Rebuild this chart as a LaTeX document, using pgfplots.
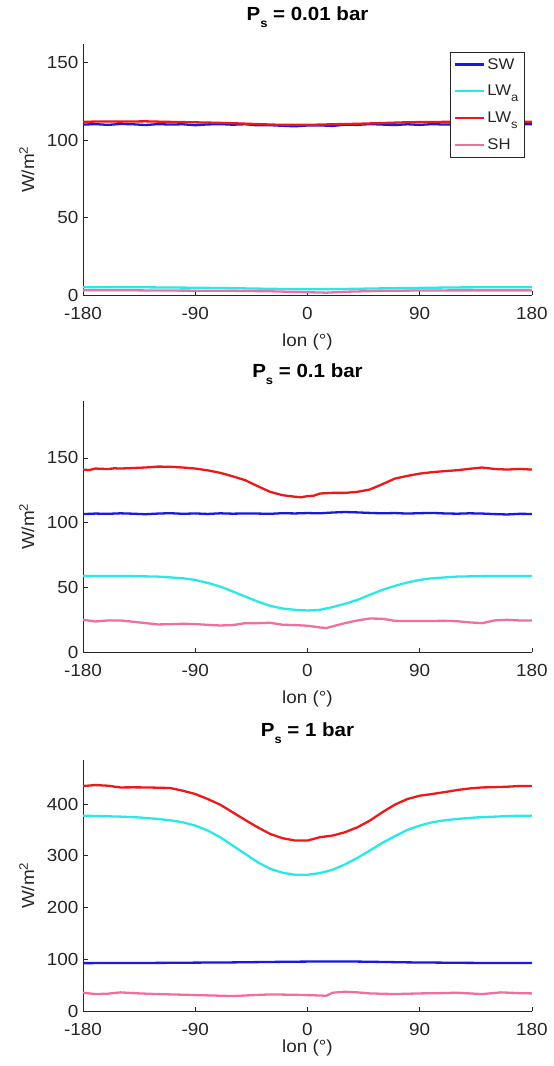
\documentclass[border=0pt]{standalone}
\usepackage{fontspec}
\setmainfont{Liberation Sans}[FakeStretch=1.08]
\usepackage{pgfplots}
\pgfplotsset{compat=1.18}

\definecolor{swblue}{RGB}{25,25,225}
\definecolor{lwacyan}{RGB}{40,232,232}
\definecolor{lwsred}{RGB}{235,25,25}
\definecolor{shpink}{RGB}{240,110,160}
\definecolor{axgray}{RGB}{38,38,38}

\newcommand{\sub}[1]{\raisebox{-0.38em}{\fontsize{12}{12}\selectfont #1}}

\pgfplotsset{
  panel/.style={
    scale only axis, width=449pt, height=251pt,
    xmin=-180, xmax=180, ymin=0,
    axis x line*=bottom, axis y line*=left,
    axis line style={axgray, line width=0.8pt, -},
    tick align=inside, major tick length=4.5pt,
    tick style={axgray, line width=0.8pt},
    xtick={-180,-90,0,90,180},
    xticklabels={-180,-90,0,90,180},
    tick label style={font=\fontsize{17.5}{17.5}\selectfont, text=axgray},
    xticklabel style={yshift=-8.5pt},
    yticklabel style={xshift=-1pt},
    xlabel={lon (°)},
    ylabel={W/m\textsuperscript{2}},
    label style={font=\fontsize{17.5}{17.5}\selectfont, text=axgray},
    ylabel style={at={(axis description cs:-0.125,0.5)}, anchor=center},
    title style={font=\bfseries\fontsize{19}{19}\selectfont, at={(axis description cs:0.5,1)}, anchor=base, yshift=17.5pt},
    every axis plot/.append style={line width=2.3pt, no markers},
  },
}

\begin{document}
\begin{tikzpicture}
\useasboundingbox (0,0) rectangle (554pt,-1066pt);

% ---- P_s = 0.01 bar
\begin{axis}[panel, at={(83pt,-295pt)}, anchor=south west,
  ymax=162, ytick={0,50,100,150}, yticklabels={0,50,100,150},
  xlabel style={at={(axis description cs:0.5,0)}, anchor=center, yshift=-47pt},
  title={P\sub{s} = 0.01 bar},
  legend style={at={(axis description cs:0.984,0.968)}, anchor=north east,
    draw=axgray, line width=0.8pt, fill=white,
    font=\fontsize{15.5}{15.5}\selectfont, text=axgray,
    cells={anchor=west}, row sep=10.5pt, inner xsep=4pt, inner ysep=4pt},
  legend image code/.code={\draw[#1] (0pt,0pt) -- (29pt,0pt);},
]
\addplot[swblue] coordinates {
(-180,110.0) (-170,110.3) (-160,109.8) (-150,110.4) (-140,110.2) (-130,109.7)
(-120,110.3) (-110,110.0) (-100,110.2) (-90,109.6) (-80,110.1) (-70,110.3)
(-60,109.9) (-50,110.2) (-40,109.5) (-30,109.6) (-20,109.2) (-10,108.9)
(0,109.4) (10,109.5) (20,109.1) (30,109.9) (40,109.8) (50,110.3) (60,110.0)
(70,109.7) (80,110.2) (90,109.8) (100,110.3) (110,110.0) (120,110.2)
(130,110.4) (140,110.0) (150,110.1) (160,110.4) (170,110.2) (180,110.3)};
\addplot[lwacyan] coordinates {
(-180,5.0) (-150,5.1) (-120,4.9) (-90,4.7) (-60,4.4) (-30,4.0) (0,3.7)
(30,3.9) (60,4.3) (90,4.6) (120,4.9) (150,5.0) (180,5.0)};
\addplot[lwsred] coordinates {
(-180,111.8) (-165,112.0) (-150,111.9) (-130,112.1) (-115,111.8) (-100,111.6)
(-80,111.3) (-60,110.9) (-40,110.3) (-20,109.8) (-10,109.9) (0,109.8)
(20,110.2) (40,110.5) (60,111.0) (80,111.5) (100,111.7) (130,111.8)
(150,111.9) (165,112.0) (180,111.8)};
\addplot[shpink] coordinates {
(-180,3.0) (-150,3.1) (-120,2.9) (-90,2.8) (-60,2.7) (-30,2.4) (0,1.8)
(15,1.5) (30,2.1) (60,2.7) (90,2.9) (120,3.0) (150,3.0) (180,3.0)};
\legend{SW, LW\sub{a}, LW\sub{s}, SH}
\end{axis}

% ---- P_s = 0.1 bar
\begin{axis}[panel, at={(83pt,-652pt)}, anchor=south west,
  ymax=194, ytick={0,50,100,150}, yticklabels={0,50,100,150},
  xlabel style={at={(axis description cs:0.5,0)}, anchor=center, yshift=-47pt},
  title={P\sub{s} = 0.1 bar},
]
\addplot[swblue] coordinates {
(-180,106.6) (-170,107.0) (-160,106.8) (-150,107.2) (-140,106.9) (-130,106.5)
(-120,107.0) (-110,107.3) (-100,106.8) (-90,107.1) (-80,106.7) (-70,107.2)
(-60,106.9) (-50,107.1) (-40,107.0) (-30,106.8) (-20,107.3) (-10,107.1)
(0,107.4) (10,107.2) (20,107.8) (30,108.2) (40,107.9) (50,107.5) (60,107.2)
(70,107.4) (80,107.0) (90,107.3) (100,107.5) (110,107.1) (120,106.9)
(130,107.2) (140,107.0) (150,106.6) (160,106.3) (170,106.8) (180,106.7)};
\addplot[lwacyan] coordinates {
(-180,58.8) (-150,58.8) (-120,58.3) (-100,57.0) (-90,55.7) (-80,53.4)
(-70,50.6) (-60,46.8) (-50,42.9) (-40,39.0) (-30,35.7) (-20,33.6)
(-10,32.6) (0,32.1) (10,32.6) (20,34.7) (30,37.2) (40,40.3) (50,44.2)
(60,48.0) (70,51.1) (80,53.7) (90,55.7) (100,57.0) (120,58.3) (150,58.8)
(180,58.8)};
\addplot[lwsred] coordinates {
(-180,141.0) (-175,140.6) (-170,141.8) (-160,141.4) (-155,142.0) (-150,141.8)
(-140,142.2) (-130,142.6) (-120,143.3) (-110,143.2) (-100,142.6) (-90,141.8)
(-80,140.4) (-70,138.5) (-60,135.8) (-50,132.8) (-40,128.2) (-30,123.8)
(-20,121.2) (-10,120.0) (-5,119.6) (0,120.5) (5,120.8) (10,122.5) (20,123.0)
(30,123.0) (40,123.8) (50,125.6) (60,129.7) (70,134.0) (80,136.1) (90,137.9)
(100,139.0) (110,139.8) (120,140.5) (130,141.6) (140,142.6) (150,141.5)
(160,141.0) (170,141.5) (180,141.0)};
\addplot[shpink] coordinates {
(-180,24.9) (-170,23.6) (-160,24.4) (-150,24.4) (-140,23.4) (-130,22.4)
(-120,21.3) (-110,21.5) (-100,21.8) (-90,21.6) (-80,21.0) (-70,20.5)
(-60,20.8) (-50,22.3) (-40,22.3) (-30,22.6) (-20,21.1) (-10,20.8) (0,20.3)
(10,19.0) (15,18.5) (20,19.8) (30,22.3) (40,24.4) (50,25.9) (60,25.7)
(70,24.1) (80,23.9) (90,23.9) (100,24.0) (110,24.1) (120,23.8) (130,22.9)
(140,22.3) (150,24.4) (160,24.9) (170,24.4) (180,24.4)};
\end{axis}

% ---- P_s = 1 bar
\begin{axis}[panel, at={(83pt,-1011pt)}, anchor=south west,
  ymax=485, ytick={0,100,200,300,400}, yticklabels={0,100,200,300,400},
  xlabel style={at={(axis description cs:0.5,0)}, anchor=center, yshift=-37pt},
  title={P\sub{s} = 1 bar},
]
\addplot[swblue] coordinates {
(-180,92.5) (-160,92.7) (-140,92.6) (-120,93.0) (-100,93.2) (-90,93.5)
(-70,93.7) (-50,94.2) (-30,94.8) (-10,95.3) (0,95.5) (20,95.8) (40,95.5)
(60,94.8) (80,94.0) (90,93.8) (110,93.4) (130,93.0) (150,92.8) (165,92.6)
(180,92.6)};
\addplot[lwacyan] coordinates {
(-180,377.5) (-165,376.5) (-150,375.6) (-135,374.0) (-120,371.1) (-110,368.5)
(-100,364.7) (-90,358.3) (-80,348.6) (-70,335.8) (-60,319.7) (-50,303.7)
(-40,287.6) (-30,274.8) (-20,267.1) (-10,263.2) (0,263.2) (10,266.5)
(20,272.9) (30,283.1) (40,296.0) (50,310.1) (60,324.9) (70,337.7)
(80,349.9) (90,358.3) (100,364.7) (110,368.5) (120,371.1) (135,374.0)
(150,375.6) (165,377.0) (180,377.5)};
\addplot[lwsred] coordinates {
(-180,434.7) (-170,436.6) (-160,435.3) (-150,432.0) (-140,432.2) (-130,432.0)
(-120,431.5) (-110,430.8) (-100,425.7) (-90,419.3) (-80,409.6) (-70,398.7)
(-60,384.0) (-50,369.2) (-40,355.0) (-30,342.2) (-20,333.9) (-10,329.4)
(0,329.4) (10,335.8) (20,339.0) (30,345.4) (40,355.0) (50,367.9) (60,384.0)
(70,398.7) (80,409.6) (90,416.0) (100,419.3) (110,423.0) (120,427.0)
(130,430.0) (140,432.0) (150,432.5) (160,433.4) (170,434.7) (180,434.7)};
\addplot[shpink] coordinates {
(-180,35.3) (-170,32.7) (-160,33.5) (-150,36.0) (-135,34.0) (-120,32.7)
(-105,31.8) (-90,30.8) (-75,29.9) (-60,28.9) (-45,30.5) (-30,32.1)
(-15,31.5) (0,30.8) (15,29.5) (20,35.3) (30,37.2) (40,36.0) (50,34.0)
(70,32.7) (90,34.0) (105,34.5) (120,35.3) (140,32.7) (155,36.0) (170,34.5)
(180,34.0)};
\end{axis}
\end{tikzpicture}
\end{document}
